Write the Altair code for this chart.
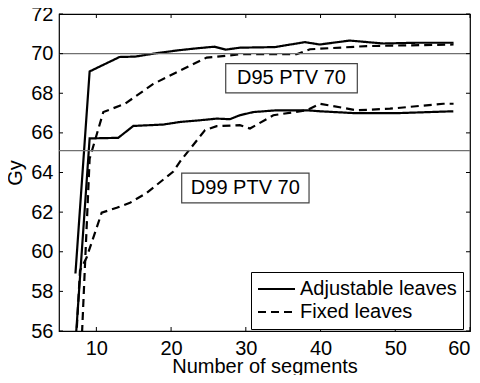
import altair as alt
import pandas as pd

# ---- data ----
adj95_x = [7.2, 9.1, 13.1, 15.2, 18.0, 21.0, 23.5, 25.8, 27.3, 29.2, 33.9, 37.9, 39.9, 43.9, 48.4, 52.9, 57.8]
adj95_y = [58.9, 69.1, 69.83, 69.85, 70.02, 70.17, 70.27, 70.35, 70.2, 70.3, 70.33, 70.58, 70.46, 70.66, 70.51, 70.55, 70.55]

adj99_x = [7.0, 9.1, 12.93, 14.94, 18.95, 21.19, 23.42, 26.1, 27.88, 29.2, 31.0, 34.13, 38.14, 39.93, 44.38, 50.6, 57.77]
adj99_y = [54.3, 65.72, 65.75, 66.35, 66.42, 66.55, 66.62, 66.72, 66.69, 66.89, 67.05, 67.14, 67.14, 67.09, 67.0, 67.0, 67.09]

fix95_x = [7.4, 9.1, 10.93, 13.83, 17.62, 21.19, 24.76, 27.44, 29.2, 36.8, 38.6, 46.2, 57.8]
fix95_y = [50.0, 64.7, 67.05, 67.47, 68.47, 69.14, 69.8, 69.89, 69.97, 69.97, 70.22, 70.38, 70.46]

fix99_x = [7.1, 7.81, 8.71, 10.71, 12.72, 14.5, 16.74, 20.3, 21.19, 24.54, 26.1, 29.2, 30.56, 33.68, 38.14, 39.93, 44.83, 49.29, 56.42, 57.8]
fix99_y = [54.2, 59.05, 59.72, 61.97, 62.22, 62.47, 62.97, 64.05, 64.55, 66.14, 66.34, 66.39, 66.22, 66.89, 67.14, 67.47, 67.14, 67.22, 67.47, 67.47]

ref_levels = [70.0, 65.1]
x_ticks = [10, 20, 30, 40, 50, 60]
y_ticks = [56, 58, 60, 62, 64, 66, 68, 70, 72]
leaves_names = ["Adjustable leaves", "Fixed leaves"]

# annotation boxes (data coordinates)
ann_text = ["D95 PTV 70", "D99 PTV 70"]
ann_cx = [36.1, 29.93]
ann_cy = [68.76, 63.22]
ann_x1 = [27.31, 21.42]
ann_x2 = [44.92, 38.46]
ann_y1 = [69.5, 63.965]
ann_y2 = [68.015, 62.465]

FONT = "Liberation Sans"
W, H = 411, 317

rows = []
for name, leaves, xs, ys in [
    ("adj95", leaves_names[0], adj95_x, adj95_y),
    ("adj99", leaves_names[0], adj99_x, adj99_y),
    ("fix95", leaves_names[1], fix95_x, fix95_y),
    ("fix99", leaves_names[1], fix99_x, fix99_y),
]:
    for i, (a, b) in enumerate(zip(xs, ys)):
        rows.append({"series": name, "leaves": leaves, "x": a, "y": b, "i": i})
df = pd.DataFrame(rows)

xscale = alt.Scale(domain=[5, 60], nice=False, zero=False)
yscale = alt.Scale(domain=[56, 72], nice=False, zero=False)

xaxis = alt.Axis(values=x_ticks, labelPadding=7, labelOverlap=False,
                 title="Number of segments",
                 titleX=W / 2, titleY=41, titleBaseline="alphabetic")
yaxis = alt.Axis(values=y_ticks, labelPadding=6, labelOverlap=False,
                 title="Gy",
                 titleX=-44, titleY=H / 2, titleBaseline="middle", titleAngle=-90)

refs = alt.Chart(pd.DataFrame({"y": ref_levels})).mark_rule(
    color="#707070", strokeWidth=1.2
).encode(y=alt.Y("y:Q", scale=yscale, axis=yaxis))

lines = alt.Chart(df).mark_line(color="black", strokeWidth=2.2, clip=True).encode(
    x=alt.X("x:Q", scale=xscale, axis=xaxis),
    y=alt.Y("y:Q", scale=yscale, axis=yaxis),
    detail="series:N",
    order="i:Q",
    strokeDash=alt.StrokeDash(
        "leaves:N",
        scale=alt.Scale(domain=leaves_names, range=[[1, 0], [8, 5]]),
        legend=alt.Legend(
            title=None, orient="none", legendX=192, legendY=258,
            strokeColor="black", fillColor="white", padding=6,
            labelFont=FONT, labelFontSize=20, labelColor="black",
            symbolType="stroke", symbolSize=1369, symbolStrokeWidth=2,
            symbolStrokeColor="black", labelOffset=4, rowPadding=1,
            clipHeight=22, cornerRadius=0,
        ),
    ),
)

ann = pd.DataFrame({"t": ann_text, "cx": ann_cx, "cy": ann_cy,
                    "x1": ann_x1, "x2": ann_x2, "y1": ann_y1, "y2": ann_y2})
boxes = alt.Chart(ann).mark_rect(fill="white", stroke="#444444", strokeWidth=1.2).encode(
    x=alt.X("x1:Q", scale=xscale, axis=xaxis), x2="x2:Q",
    y=alt.Y("y1:Q", scale=yscale, axis=yaxis), y2="y2:Q",
)
texts = alt.Chart(ann).mark_text(font=FONT, fontSize=20, color="black",
                                 align="center", baseline="middle").encode(
    x=alt.X("cx:Q", scale=xscale, axis=xaxis),
    y=alt.Y("cy:Q", scale=yscale, axis=yaxis), text="t:N"
)

# inward ticks on all four sides
tx = pd.DataFrame({"v": x_ticks})
ty = pd.DataFrame({"v": y_ticks})
tk_b = alt.Chart(tx).mark_rule(color="black", strokeWidth=1).encode(
    x=alt.X("v:Q", scale=xscale, axis=xaxis), y=alt.value(H), y2=alt.value(H - 4))
tk_t = alt.Chart(tx).mark_rule(color="black", strokeWidth=1).encode(
    x=alt.X("v:Q", scale=xscale, axis=xaxis), y=alt.value(0), y2=alt.value(4))
tk_l = alt.Chart(ty).mark_rule(color="black", strokeWidth=1).encode(
    y=alt.Y("v:Q", scale=yscale, axis=yaxis), x=alt.value(0), x2=alt.value(4))
tk_r = alt.Chart(ty).mark_rule(color="black", strokeWidth=1).encode(
    y=alt.Y("v:Q", scale=yscale, axis=yaxis), x=alt.value(W), x2=alt.value(W - 4))

chart = alt.layer(lines, refs, boxes, texts, tk_b, tk_t, tk_l, tk_r).properties(
    width=W, height=H,
    background="white",
    autosize=alt.AutoSizeParams(type="none"),
    padding={"left": 51, "top": 6, "right": 2, "bottom": 44},
).configure_axis(
    labelOverlap=False, ticks=False, domain=False, grid=False,
    labelFont=FONT, labelFontSize=20, labelColor="black",
    titleFont=FONT, titleFontSize=20, titleFontWeight="normal", titleColor="black",
).configure_view(stroke="black", strokeWidth=1.2)

chart.save("out.html", embed_options={"renderer": "svg", "actions": False})
